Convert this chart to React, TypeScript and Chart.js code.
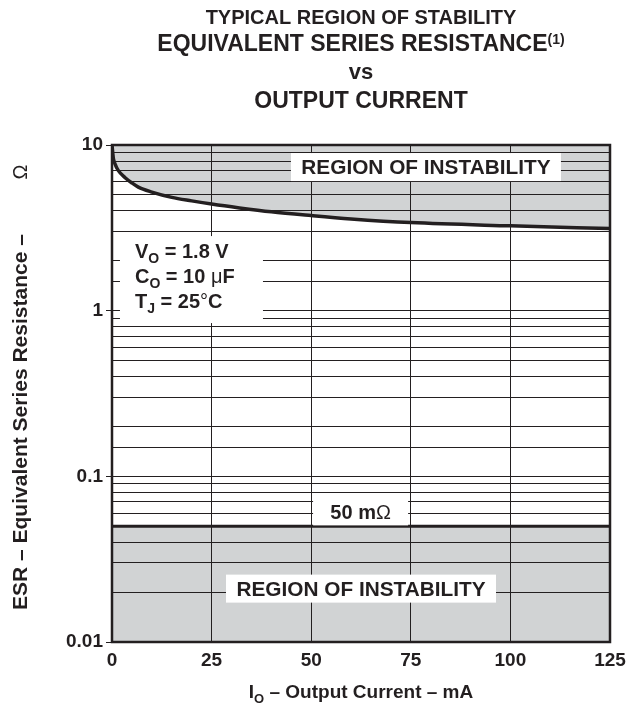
import React, { useEffect, useRef } from 'react';
import { Chart, registerables } from 'chart.js';

Chart.register(...registerables);

// ---- data ----
const outputCurrentMA = [0, 0.35, 0.75, 1.6, 3.3, 5, 6.6, 10, 15, 20, 25, 32, 40, 50, 60, 75, 100, 125];
const esrUpperBoundOhm = [10, 8.3, 7.7, 7.0, 6.35, 5.9, 5.57, 5.2, 4.83, 4.6, 4.4, 4.17, 3.95, 3.75, 3.58, 3.4, 3.25, 3.13];
const lowerBoundCurrentMA = [0, 125];
const lowerBoundOhm = [0.05, 0.05];
const yTickLabels = ['0.01', '0.1', '1', '10'];
const xTickStep = 25;

const GRAY = '#d1d3d4';
const INK = '#231f20';
const FAMILY = '"Liberation Sans", Arial, Helvetica, sans-serif';

type Seg = { t: string; size: number; dy?: number; weight?: string };

function font(size: number, weight = 'bold') {
  return `${weight} ${size}px ${FAMILY}`;
}

function segsWidth(ctx: CanvasRenderingContext2D, segs: Seg[]) {
  let w = 0;
  for (const s of segs) {
    ctx.font = font(s.size, s.weight);
    w += ctx.measureText(s.t).width;
  }
  return w;
}

function drawSegs(ctx: CanvasRenderingContext2D, segs: Seg[], x: number, y: number, align: 'left' | 'center' | 'right') {
  const total = segsWidth(ctx, segs);
  let cx = align === 'center' ? x - total / 2 : align === 'right' ? x - total : x;
  ctx.textAlign = 'left';
  ctx.textBaseline = 'alphabetic';
  for (const s of segs) {
    ctx.font = font(s.size, s.weight);
    ctx.fillText(s.t, cx, y + (s.dy || 0));
    cx += ctx.measureText(s.t).width;
  }
}

function isPow10(v: number | undefined) {
  if (v === undefined || v <= 0) return false;
  const l = Math.log10(v);
  return Math.abs(l - Math.round(l)) < 1e-6;
}

// annotation boxes: centre in data units, size in px
const instabilityTop = { x: 78.8, y: 7.36, w: 270, h: 28 };
const instabilityBottom = { x: 62.5, y: 0.021, w: 270, h: 28 };
const fiftyMilli = { x: 62.4, y: 0.061, w: 95, h: 27 };
const conditionsBox = { x: 2.0, y: 2.82, w: 143, h: 87 };

const overlayPlugin = {
  id: 'overlay',
  afterDraw(chart: any) {
    const { ctx, chartArea: a, scales } = chart;
    const xs = scales.x;
    const ys = scales.y;
    ctx.save();
    ctx.fillStyle = INK;

    // title
    const cx = (a.left + a.right) / 2;
    drawSegs(ctx, [{ t: 'TYPICAL REGION OF STABILITY', size: 20 }], cx, 24, 'center');
    drawSegs(ctx, [{ t: 'EQUIVALENT SERIES RESISTANCE', size: 23 }, { t: '(1)', size: 14, dy: -7 }], cx, 51, 'center');
    drawSegs(ctx, [{ t: 'vs', size: 22 }], cx, 79, 'center');
    drawSegs(ctx, [{ t: 'OUTPUT CURRENT', size: 23 }], cx, 108, 'center');

    // x axis title
    drawSegs(ctx, [
      { t: 'I', size: 19 },
      { t: 'O', size: 13, dy: 5 },
      { t: ' \u2013 Output Current \u2013 mA', size: 19 },
    ], cx, 698, 'center');

    // y axis title
    ctx.save();
    ctx.translate(27, 610);
    ctx.rotate(-Math.PI / 2);
    drawSegs(ctx, [{ t: 'ESR \u2013 Equivalent Series Resistance \u2013', size: 21 }], 0, 0, 'left');
    drawSegs(ctx, [{ t: '\u03A9', size: 20, weight: 'normal' }], 610 - 172, 0, 'center');
    ctx.restore();

    const box = (b: { x: number; y: number; w: number; h: number }) => {
      const px = xs.getPixelForValue(b.x);
      const py = ys.getPixelForValue(b.y);
      ctx.fillStyle = '#ffffff';
      ctx.fillRect(px - b.w / 2, py - b.h / 2, b.w, b.h);
      ctx.fillStyle = INK;
      return { px, py };
    };

    let p = box(instabilityTop);
    drawSegs(ctx, [{ t: 'REGION OF INSTABILITY', size: 20.8 }], p.px, p.py + 7.4, 'center');
    p = box(instabilityBottom);
    drawSegs(ctx, [{ t: 'REGION OF INSTABILITY', size: 20.8 }], p.px, p.py + 7.4, 'center');
    p = box(fiftyMilli);
    drawSegs(ctx, [{ t: '50 m', size: 20 }, { t: '\u03A9', size: 20, weight: 'normal' }], p.px, p.py + 7.2, 'center');

    // conditions
    const bx = xs.getPixelForValue(conditionsBox.x);
    const by = ys.getPixelForValue(conditionsBox.y);
    ctx.fillStyle = '#ffffff';
    ctx.fillRect(bx, by, conditionsBox.w, conditionsBox.h);
    ctx.fillStyle = INK;
    const tx = bx + 15;
    drawSegs(ctx, [{ t: 'V', size: 20 }, { t: 'O', size: 14, dy: 5 }, { t: ' = 1.8 V', size: 20 }], tx, by + 22, 'left');
    drawSegs(ctx, [{ t: 'C', size: 20 }, { t: 'O', size: 14, dy: 5 }, { t: ' = 10 ', size: 20 }, { t: '\u03BC', size: 20, weight: 'normal' }, { t: 'F', size: 20 }], tx, by + 47, 'left');
    drawSegs(ctx, [{ t: 'T', size: 20 }, { t: 'J', size: 14, dy: 5 }, { t: ' = 25', size: 20 }, { t: '\u00B0', size: 20, weight: 'normal' }, { t: 'C', size: 20 }], tx, by + 72, 'left');

    // frame
    ctx.strokeStyle = INK;
    ctx.lineWidth = 2.5;
    ctx.strokeRect(a.left, a.top, a.right - a.left, a.bottom - a.top);
    ctx.restore();
  },
};

export default function App() {
  const ref = useRef<HTMLCanvasElement>(null);
  useEffect(() => {
    document.body.style.margin = '0';
    const tickFont = { family: FAMILY, size: 19, weight: 'bold' as const };
    const chart = new Chart(ref.current as HTMLCanvasElement, {
      type: 'line',
      data: {
        datasets: [
          {
            data: outputCurrentMA.map((x, i) => ({ x, y: esrUpperBoundOhm[i] })),
            borderColor: INK,
            borderWidth: 3.5,
            backgroundColor: GRAY,
            fill: 'end',
            pointRadius: 0,
            cubicInterpolationMode: 'monotone',
          },
          {
            data: lowerBoundCurrentMA.map((x, i) => ({ x, y: lowerBoundOhm[i] })),
            borderColor: INK,
            borderWidth: 3,
            backgroundColor: GRAY,
            fill: 'start',
            pointRadius: 0,
          },
        ],
      },
      options: {
        responsive: false,
        animation: false,
        layout: { padding: { top: 145, right: 17, left: 0, bottom: 0 } },
        plugins: {
          legend: { display: false },
          tooltip: { enabled: false },
          title: { display: false },
        },
        scales: {
          x: {
            type: 'linear',
            min: 0,
            max: 125,
            ticks: { stepSize: xTickStep, color: INK, font: tickFont, padding: 7, maxRotation: 0, autoSkip: false },
            grid: { color: INK, lineWidth: 1, drawTicks: false, z: 1 },
            border: { display: false },
            afterFit: (s: any) => { s.height = 66; s.paddingLeft = 0; s.paddingRight = 0; },
          },
          y: {
            type: 'logarithmic',
            min: 0.01,
            max: 10,
            ticks: {
              autoSkip: false,
              color: INK,
              font: tickFont,
              padding: 3,
              callback: (v: any) => {
                const n = Number(v);
                if (!isPow10(n)) return '';
                return yTickLabels[Math.round(Math.log10(n)) + 2] ?? '';
              },
            },
            grid: {
              color: INK,
              lineWidth: 1,
              drawTicks: true,
              tickLength: 6,
              z: 1,
              tickColor: (c: any) => (isPow10(c.tick?.value) ? INK : 'rgba(0,0,0,0)'),
            },
            border: { display: false },
            afterFit: (s: any) => { s.width = 112; s.paddingTop = 0; s.paddingBottom = 0; },
          },
        },
      } as any,
      plugins: [overlayPlugin],
    });
    return () => chart.destroy();
  }, []);
  return <canvas ref={ref} width={627} height={708} style={{ display: 'block', width: 627, height: 708 }} />;
}
